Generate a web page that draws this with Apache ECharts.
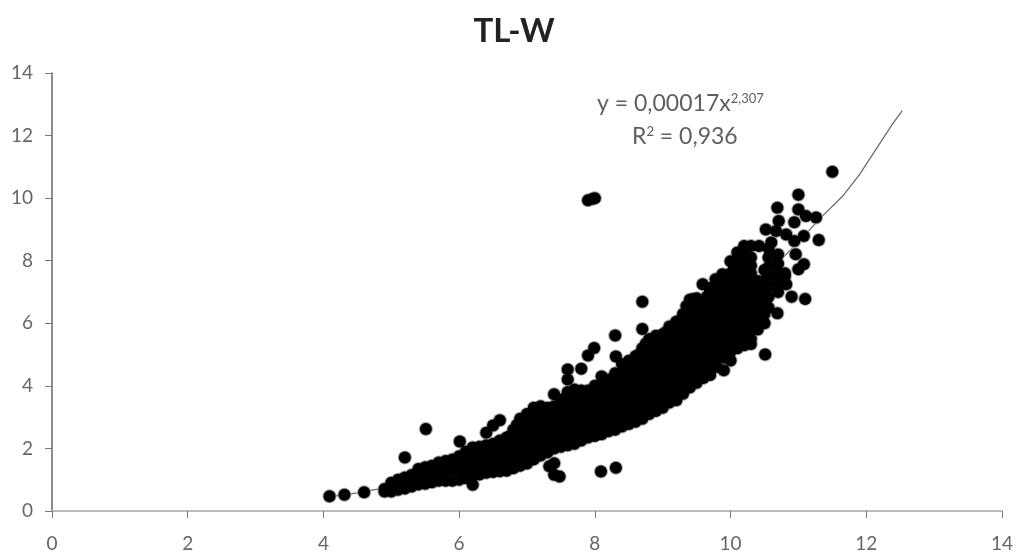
<!DOCTYPE html>
<html><head><meta charset="utf-8">
<style>html,body{margin:0;background:#fff}#c{width:1016px;height:553px}</style>
<script src="https://cdn.jsdelivr.net/npm/echarts@6/dist/echarts.min.js"></script>
</head><body><div id="c"></div>
<script>
const titleText = "TL-W";
const axisTicks = [0,2,4,6,8,10,12,14];
const trendTL = [4.1,4.5,5,5.5,6,6.5,7,7.5,8,8.5,9,9.5,10,10.5,11,11.36,11.65,11.9,12.14,12.38,12.53];
const trendW = [0.46,0.58,0.78,1.02,1.3,1.65,2.05,2.52,3.1,3.8,4.6,5.5,6.5,7.5,8.6,9.44,10.06,10.75,11.55,12.35,12.8];
const outliers = [[4.09,0.47],[4.31,0.52],[4.6,0.6],[5.51,2.62],[5.2,1.71],[6.01,2.22],[6.6,2.9],[6.5,2.73],[6.4,2.5],[6.2,0.84],
 [7.99,5.21],[7.9,4.97],[7.6,4.52],[7.8,4.55],[7.6,4.2],[7.4,3.73],[7.48,1.1],[7.4,1.16],[7.33,1.43],[7.4,1.53],[8.09,1.26],[8.31,1.38],
 [11.5,10.84],[11,10.11],[10.69,9.69],[7.97,9.98],[7.9,9.93],[8,10],[8.7,6.69],[8.7,5.82],[8.3,5.61],[8.31,4.94],[10.51,5],[10.69,6.32],
 [10.9,6.85],[11.1,6.78],[11.3,8.66],[9.9,4.5],[10,4.81],[10.3,5.34],[10,5.4],[9.2,3.54],[10.82,7.25],[11,9.64],[11.11,9.43],[11.26,9.38],
 [10.94,9.23],[10.71,9.27],[10.52,9],[10.67,8.95],[10.82,8.84],[10.94,8.63],[11.08,8.79],[10.96,8.21],[11.08,7.89],[11,7.73],[10.6,8.58],
 [10.2,8.47],[10.3,8.47],[10.42,8.47],[10.1,8.26],[10,7.98],[9.88,7.57],[9.78,7.41],[9.59,7.25],[9.69,7.13],[9.44,6.78]];
const bandA = [[4.9,0.62,0.7],[5,0.62,0.78,0.9],[5.1,0.68,0.85,1],[5.2,0.72,0.9,1.07],[5.3,0.78,0.95,1.15],[5.4,0.85,1.1,1.34],
 [5.5,0.87,1.12,1.4],[5.6,0.92,1.18,1.45],[5.7,0.97,1.25,1.55],[5.8,0.97,1.28,1.6],[5.9,0.97,1.3,1.65],[6,1,1.37,1.75],
 [6.1,1.05,1.47,1.9],[6.2,1.13,1.58,2.03],[6.3,1.17,1.6,2.05],[6.4,1.22,1.65,2.1],[6.5,1.25,1.7,2.15],[6.6,1.27,1.75,2.25]];
const bandB = [[6.7,1.29,1.65,2,2.35],[6.8,1.37,1.75,2.2,2.6],[6.9,1.45,1.8,2.15,2.55,2.95],[7,1.52,1.9,2.3,2.7,3.1],
 [7.1,1.65,2,2.45,2.9,3.3],[7.2,1.77,2.15,2.55,2.95,3.35],[7.3,1.87,2.2,2.6,2.95,3.3],[7.4,2,2.35,2.7,3.05,3.35],
 [7.5,2.05,2.4,2.75,3.15,3.5],[7.6,2.1,2.45,2.8,3.15,3.5,3.8],[7.7,2.15,2.5,2.85,3.2,3.55,3.88],[7.8,2.25,2.6,2.95,3.25,3.55,3.85],
 [7.9,2.35,2.65,3,3.3,3.6,3.85],[8,2.4,2.75,3.1,3.4,3.7,4],[8.1,2.45,2.8,3.15,3.5,3.9,4.3],[8.2,2.55,2.9,3.25,3.55,3.9,4.2]];
const bandC = [[8.3,2.6,2.95,3.3,3.7,4.05,4.4],[8.4,2.7,3.05,3.4,3.75,4.1,4.4,4.7],[8.5,2.78,3.1,3.45,3.8,4.15,4.5,4.8],
 [8.6,2.85,3.2,3.55,3.9,4.25,4.6,4.95],[8.7,2.95,3.3,3.65,4,4.4,4.8,5.2],[8.8,3.1,3.45,3.8,4.15,4.5,4.85,5.2,5.5],
 [8.9,3.2,3.55,3.9,4.25,4.6,4.95,5.3,5.6],[9,3.3,3.65,4,4.35,4.65,5,5.35,5.65],[9.1,3.47,3.8,4.15,4.5,4.85,5.2,5.55,5.9],
 [9.2,3.6,3.95,4.3,4.65,5,5.35,5.7,6.05],[9.3,3.75,4.1,4.45,4.8,5.15,5.5,5.9,6.3],[9.4,3.95,4.3,4.65,5,5.4,5.75,6.1,6.45,6.75],
 [9.5,4.1,4.45,4.8,5.15,5.5,5.8,6.15,6.5,6.8],[9.6,4.25,4.6,4.95,5.3,5.6,5.95,6.3,6.7]];
const bandD = [[9.7,4.35,4.7,5.05,5.4,5.75,6.1,6.45,6.75,7],[9.8,4.6,4.95,5.3,5.65,6,6.3,6.65,7,7.3],[9.9,4.9,5.25,5.6,5.95,6.3,6.65,7,7.3,7.5],
 [10,5.1,5.45,5.8,6.15,6.5,6.85,7.2,7.6],[10.1,5.2,5.55,5.9,6.25,6.6,6.95,7.3,7.65,8],[10.2,5.3,5.65,6,6.35,6.7,7.05,7.4,7.8,8.2],
 [10.3,5.5,5.85,6.2,6.55,6.9,7.25,7.6,7.85,8.1],[10.4,5.8,6.15,6.5,6.85,7.1,7.35],[10.5,6,6.3,6.65,7,7.35,7.7],
 [10.56,6.5,6.85,7.2,7.5,7.8,8.1,8.4],[10.7,7,7.3,7.6,7.9,8.2],[10.8,7.5,7.6]];
const coreA = [[5.45,1,1.22],[5.75,1.1,1.4],[6.05,1.2,1.55],[6.15,1.3,1.7],[6.25,1.38,1.8],[6.35,1.42,1.85],[6.45,1.48,1.9],[6.55,1.5,1.98],
 [6.65,1.47,1.83,2.17],[6.75,1.55,1.95,2.4],[6.85,1.6,1.98,2.35,2.75],[6.95,1.65,2.05,2.45,2.85],[7.05,1.78,2.2,2.6,3],[7.15,1.9,2.3,2.75,3.12],
 [7.25,2,2.35,2.75,3.15],[7.35,2.1,2.45,2.8,3.15],[7.45,2.2,2.55,2.9,3.25],[7.55,2.25,2.6,2.95,3.3,3.6],[7.65,2.3,2.65,3,3.35,3.7],
 [7.75,2.4,2.75,3.05,3.4,3.7],[7.85,2.5,2.8,3.15,3.45,3.7],[7.95,2.57,2.92,3.25,3.55,3.85],[8.05,2.62,2.97,3.3,3.6,3.95],[8.15,2.7,3.05,3.4,3.7,4.05]];
const coreB = [[8.25,2.78,3.12,3.5,3.85,4.2],[8.35,2.87,3.22,3.57,3.92,4.25],[8.45,2.95,3.28,3.62,3.97,4.3,4.6],[8.55,3.03,3.38,3.72,4.07,4.42,4.75],
 [8.65,3.12,3.48,3.82,4.2,4.6,5],[8.75,3.28,3.62,3.98,4.32,4.68,5.05,5.35],[8.85,3.38,3.72,4.08,4.42,4.78,5.12,5.45],[8.95,3.48,3.82,4.18,4.5,4.82,5.18,5.5],
 [9.05,3.63,3.97,4.32,4.68,5.02,5.38,5.72],[9.15,3.78,4.12,4.48,4.82,5.18,5.52,5.88],[9.25,3.93,4.27,4.62,4.98,5.32,5.7,6.1],
 [9.35,4.12,4.47,4.82,5.2,5.58,5.92,6.28,6.55],[9.45,4.28,4.62,4.98,5.32,5.65,5.98,6.32,6.62],[9.55,4.42,4.78,5.12,5.45,5.78,6.12,6.5],
 [9.65,4.52,4.88,5.22,5.58,5.92,6.28,6.6,6.85],[9.75,4.78,5.12,5.48,5.82,6.15,6.48,6.85,7.15],[9.85,5.08,5.42,5.78,6.12,6.48,6.82,7.15,7.4],
 [9.95,5.28,5.62,5.98,6.32,6.68,7.02,7.4],[10.05,5.38,5.72,6.08,6.42,6.78,7.12,7.48,7.8],[10.15,5.48,5.82,6.18,6.52,6.88,7.22,7.6,8],
 [10.25,5.68,6.02,6.38,6.72,7.08,7.42,7.72,8],[10.35,6,6.35,6.7,7,7.25],[10.45,6.15,6.48,6.82,7.18],[10.53,6.75,7.1,7.45]];

const points = [];
[bandA, bandB, bandC, bandD, coreA, coreB].forEach(b => b.forEach(r => r.slice(1).forEach(y => points.push([r[0], y]))));
outliers.forEach(p => points.push(p));

const grey = '#5f5f5f', font = 'Lato';
const chart = echarts.init(document.getElementById('c'), null, {renderer:'canvas'});
const axisBase = {
  type:'value', min:0, max:14, interval:2, splitLine:{show:false},
  axisTick:{show:true, length:7, lineStyle:{color:'#777', width:1}},
  axisLabel:{color:'#666', fontFamily:font, fontSize:19, customValues:axisTicks}
};
chart.setOption({
  animation:false, backgroundColor:'#fff',
  title:{text:titleText, left:509, textAlign:'center', top:10, textStyle:{fontFamily:font, fontWeight:'bold', fontSize:33, color:'#222'}},
  grid:{left:52, right:13, top:73, bottom:40},
  xAxis:Object.assign({}, axisBase, {
    axisLine:{show:true, onZero:false, lineStyle:{color:'#bbb', width:2}},
    axisLabel:Object.assign({}, axisBase.axisLabel, {margin:23})}),
  yAxis:Object.assign({}, axisBase, {
    axisLine:{show:true, onZero:false, lineStyle:{color:'#666', width:1.5}},
    axisLabel:Object.assign({}, axisBase.axisLabel, {margin:19})}),
  series:[
    {type:'line', data:trendTL.map((x,i)=>[x,trendW[i]]), symbol:'none', z:1, lineStyle:{color:'#666', width:1.2}},
    {type:'scatter', data:points, symbol:'circle', symbolSize:14, z:2, itemStyle:{color:'#a5a5a5', opacity:1}},
    {type:'scatter', data:points, symbol:'circle', symbolSize:12, z:3, itemStyle:{color:'#000', opacity:1}}
  ],
  graphic:[
    {type:'text', left:597, top:92, z:10, style:{
      rich:{b:{fontFamily:font, fontSize:23, fill:grey, lineHeight:26}, s:{fontFamily:font, fontSize:13, fill:grey, lineHeight:26, padding:[0,0,10,0]}},
      text:'{b|y = 0,00017x}{s|2,307}'}},
    {type:'text', left:632, top:125, z:10, style:{
      rich:{b:{fontFamily:font, fontSize:23, fill:grey, lineHeight:26}, s:{fontFamily:font, fontSize:13, fill:grey, lineHeight:26, padding:[0,0,10,0]}},
      text:'{b|R}{s|2}{b| = 0,936}'}}
  ]
});
</script></body></html>
